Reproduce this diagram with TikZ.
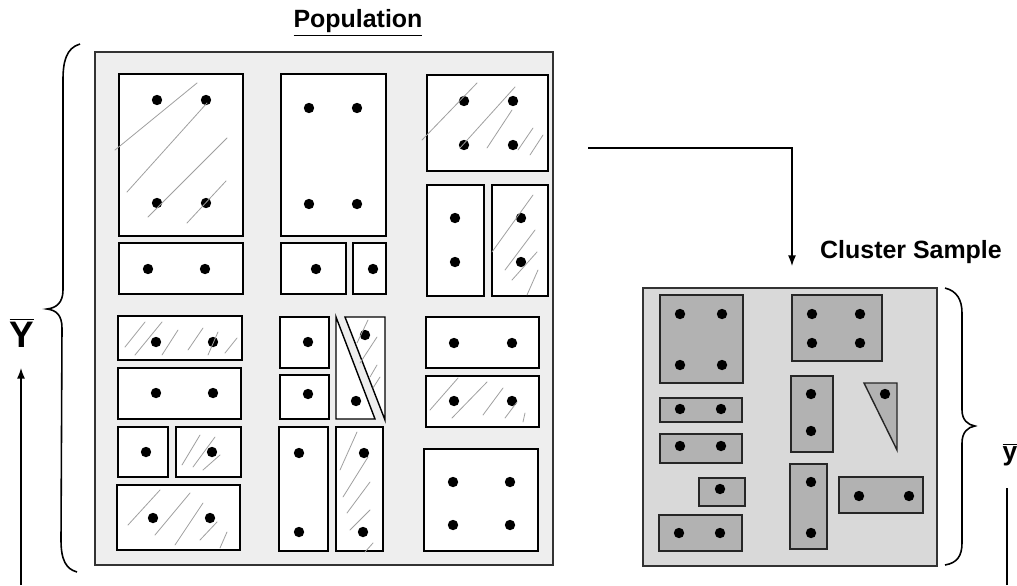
\documentclass[tikz,border=0pt]{standalone}
\usepackage{fontspec}
\setmainfont{Liberation Sans}
\usetikzlibrary{fit,arrows.meta}

\begin{document}
\begin{tikzpicture}[
    x=0.02cm, y=-0.02cm,
    popframe/.style={draw=black!80, line width=0.6pt, fill=gray!13, inner sep=0pt},
    clframe/.style={draw=black!80, line width=0.7pt, fill=gray!30, inner sep=0pt},
    unit/.style={draw, line width=0.8pt, fill=white, inner sep=0pt},
    cunit/.style={draw=black!85, line width=0.8pt, fill=gray!60, inner sep=0pt},
    dot/.style={fill=black},
    pencil/.style={draw=gray!75, line width=0.45pt, line cap=round},
    title/.style={font=\fontsize{14.2}{17}\selectfont\bfseries, inner sep=0pt},
    brace/.style={draw, line width=0.9pt},
    line/.style={draw, -{Latex[length=6pt,width=4.5pt]}, line width=0.7pt}
    ]
    \useasboundingbox (0,0) rectangle (1017,585);

    % population
    \node [popframe, fit={(95,52) (553,565)}] (pop) {};
    \node [title] (poptitle) at (358,23) {\underline{Population}};

    \node [unit, fit={(119,74) (243,236)}] (a) {};
    \node [unit, fit={(119,243) (243,294)}] (b) {};
    \node [unit, fit={(281,74) (386,236)}] (c) {};
    \node [unit, fit={(281,243) (346,294)}] (d) {};
    \node [unit, fit={(353,243) (386,294)}] (e) {};
    \node [unit, fit={(427,75) (548,171)}] (f) {};
    \node [unit, fit={(427,185) (484,296)}] (g) {};
    \node [unit, fit={(492,185) (548,296)}] (h) {};
    \node [unit, fit={(118,316) (242,360)}] (i) {};
    \node [unit, fit={(118,368) (241,419)}] (j) {};
    \node [unit, fit={(118,427) (168,477)}] (k) {};
    \node [unit, fit={(176,427) (241,477)}] (l) {};
    \node [unit, fit={(117,485) (240,550)}] (m) {};
    \node [unit, fit={(280,317) (329,368)}] (n) {};
    \node [unit, fit={(280,375) (329,419)}] (o) {};
    \node [unit, fit={(279,427) (328,551)}] (q) {};
    \node [unit, fit={(336,427) (383,551)}] (r) {};
    \node [unit, fit={(426,317) (539,368)}] (s) {};
    \node [unit, fit={(426,376) (539,427)}] (t) {};
    \node [unit, fit={(424,449) (538,551)}] (u) {};
    % split unit
    \filldraw [unit] (336,317) -- (336,419) -- (375,419) -- cycle;
    \filldraw [unit] (345,317) -- (385,317) -- (385,420) -- cycle;

    \foreach \x/\y in {157/100, 206/100, 157/203, 206/203, 148/269, 205/269,
        309/108, 357/108, 309/204, 357/204, 316/269, 373/269,
        464/101, 513/101, 464/145, 513/145, 455/218, 455/262, 521/218, 521/262,
        156/342, 213/342, 156/393, 213/393, 146/452, 212/452, 153/518, 210/518,
        308/342, 308/394, 365/335, 356/401, 299/453, 299/532, 364/453, 363/532,
        454/343, 512/343, 454/401, 512/401, 453/482, 510/482, 453/525, 510/525}
        \fill [dot] (\x,\y) circle (5.2);

    % pencil strokes
    \draw [pencil] (115,150) -- (197,83) (127,192) -- (207,103)
        (148,217) -- (227,138) (187,223) -- (226,181);
    \draw [pencil] (422,140) -- (477,83) (460,148) -- (515,87)
        (487,148) -- (512,110) (518,150) -- (533,128) (530,155) -- (543,135);
    \draw [pencil] (492,252) -- (533,195) (505,270) -- (535,230)
        (512,280) -- (537,252) (527,295) -- (538,270);
    \draw [pencil] (125,347) -- (145,322) (135,355) -- (162,322)
        (162,355) -- (178,330) (188,350) -- (203,328)
        (208,355) -- (218,332) (225,353) -- (237,338);
    \draw [pencil] (182,465) -- (200,435) (193,467) -- (215,437) (203,470) -- (220,455);
    \draw [pencil] (128,525) -- (160,490) (155,535) -- (190,493)
        (175,545) -- (203,503) (200,540) -- (217,522) (220,548) -- (227,532);
    \draw [pencil] (340,470) -- (357,432) (343,497) -- (368,457)
        (347,513) -- (370,482) (350,530) -- (370,510) (365,552) -- (373,543);
    \draw [pencil] (357,343) -- (368,320) (360,363) -- (377,337)
        (370,377) -- (377,365) (373,388) -- (380,377);
    \draw [pencil] (430,410) -- (458,378) (452,418) -- (487,382)
        (483,415) -- (503,388) (505,418) -- (517,402) (523,422) -- (525,413);

    % cluster sample
    \node [clframe, fit={(643,288) (937,566)}] (cl) {};
    \node [title] (cltitle) at (911,252) {Cluster Sample};

    \node [cunit, fit={(660,295) (743,383)}] (c1) {};
    \node [cunit, fit={(792,295) (882,361)}] (c2) {};
    \node [cunit, fit={(660,398) (742,422)}] (c3) {};
    \node [cunit, fit={(660,434) (742,463)}] (c4) {};
    \node [cunit, fit={(699,478) (745,506)}] (c5) {};
    \node [cunit, fit={(659,515) (742,551)}] (c6) {};
    \node [cunit, fit={(791,376) (833,452)}] (c7) {};
    \node [cunit, fit={(790,464) (827,549)}] (c8) {};
    \node [cunit, fit={(839,477) (923,513)}] (c9) {};
    \filldraw [cunit] (864,383) -- (897,383) -- (897,450) -- cycle;

    \foreach \x/\y in {680/314, 722/314, 680/365, 722/365, 812/314, 860/314, 812/343, 860/343,
        680/409, 721/409, 680/446, 721/446, 720/489, 679/533, 720/533,
        811/394, 811/431, 811/482, 811/533, 859/496, 909/496, 885/394}
        \fill [dot] (\x,\y) circle (5.2);

    % braces and means
    \draw [brace] (80,44) .. controls (66,48) and (63,62) .. (63,80) -- (63,290)
        .. controls (63,303) and (56,308) .. (47,309)
        .. controls (56,310) and (62,315) .. (62,328) -- (61,540)
        .. controls (61,560) and (66,569) .. (77,572);
    \draw [brace] (945,288) .. controls (957,291) and (962,300) .. (962,313) -- (962,410)
        .. controls (962,420) and (968,425) .. (975,426)
        .. controls (968,427) and (962,432) .. (962,443) -- (962,543)
        .. controls (962,556) and (957,563) .. (945,565);

    \node [font=\fontsize{21}{24}\selectfont, inner sep=0pt] (Ybar) at (22,333) {$\overline{\hbox{\bfseries Y}}$};
    \node [font=\fontsize{15}{18}\selectfont, inner sep=0pt] (ybar) at (1010,455) {$\overline{\hbox{\bfseries y}}$};

    \coordinate (ybase) at (21,585);
    \coordinate (ytip) at (21,368);
    \coordinate (smallbase) at (1007,585);
    \coordinate (smalltop) at (1007,488);
    \coordinate (pick) at (588,148);
    \coordinate (drop) at (792,266);

    \draw [line] (ybase) -- (ytip);
    \draw [draw, line width=0.7pt] (smallbase) -- (smalltop);
    \draw [line] (pick) -| (drop);
\end{tikzpicture}
\end{document}
